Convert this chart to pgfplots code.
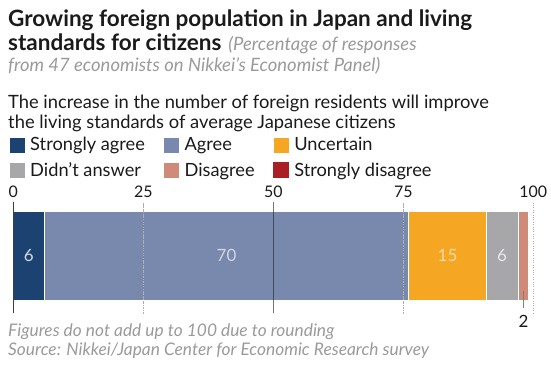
\documentclass[border=0pt]{standalone}
\usepackage{pgfplots}
\pgfplotsset{compat=1.18}
\usetikzlibrary{calc}
\usepackage{fontspec}
\setmainfont{Lato}
\definecolor{sa}{HTML}{1B4271}
\definecolor{ag}{HTML}{7889AD}
\definecolor{un}{HTML}{F5A623}
\definecolor{dna}{HTML}{A7A7A9}
\definecolor{dis}{HTML}{CF8A78}
\definecolor{sd}{HTML}{A91F24}
\definecolor{txtgray}{HTML}{9A9A9A}
\definecolor{txt}{HTML}{1A1A1A}
\begin{document}
\begin{tikzpicture}[x=1bp,y=1bp]
\useasboundingbox (0,0) rectangle (551,-364);
\node[anchor=base west, inner sep=0, text=txt, font=\fontsize{22.6}{26}\selectfont\bfseries] at (8,-26.5) {Growing foreign population in Japan and living};
\node[anchor=base west, inner sep=0, text=txt] at (8,-50.5) {{\fontsize{22.6}{26}\selectfont\bfseries standards for citizens}\hspace{7bp}{\fontsize{18.5}{21}\selectfont\itshape\color{txtgray}(Percentage of responses}};
\node[anchor=base west, inner sep=0, text=txtgray, font=\fontsize{18.5}{21}\selectfont\itshape] at (8,-71) {from 47 economists on Nikkei’s Economist Panel)};
\node[anchor=base west, inner sep=0, text=txt, font=\fontsize{18.4}{21}\selectfont] at (8,-108) {The increase in the number of foreign residents will improve};
\node[anchor=base west, inner sep=0, text=txt, font=\fontsize{18.4}{21}\selectfont] at (8,-128) {the living standards of average Japanese citizens};
\node[anchor=base west, inner sep=0, text=txtgray, font=\fontsize{17.4}{20}\selectfont\itshape] at (8,-336) {Figures do not add up to 100 due to rounding};
\node[anchor=base west, inner sep=0, text=txtgray, font=\fontsize{17.4}{20}\selectfont\itshape] at (8,-355) {Source: Nikkei/Japan Center for Economic Research survey};
\begin{axis}[
  at={(13.3bp,-313bp)}, anchor=south west,
  scale only axis, width=520bp, height=111bp,
  xmin=0, xmax=100, ymin=0, ymax=1,
  xbar stacked, bar width=88.3bp,
  axis x line*=top, axis y line*=left,
  x axis line style={draw=none},
  y axis line style={draw=txt!85, line width=0.8bp, -},
  ytick=\empty,
  xtick={0,25,50,75,100},
  major tick length=0pt,
  minor tick length=0pt,
  minor xtick={25,75,100},
  xminorgrids,
  minor grid style={txtgray!80, dotted, line width=0.6bp},
  extra x ticks={50},
  extra x tick labels={},
  extra x tick style={grid=major, major grid style={gray!90, solid, line width=0.6bp}},
  axis on top,
  /pgf/number format/assume math mode=true,
  xticklabel style={font=\fontsize{16}{19}\selectfont, text=txt, yshift=1bp},
  clip=false,
  legend columns=3,
  legend image code/.code={\fill[#1] (0bp,-8bp) rectangle (16bp,8bp);},
  legend style={at={(axis description cs:-0.0092,1.588)}, anchor=north west,
    draw=none, fill=none, inner sep=0pt, outer sep=0pt,
    font=\fontsize{18.3}{21}\selectfont, text=txt,
    row sep=9bp,
    nodes={inner sep=0pt},
    /tikz/every odd column/.append style={column sep=5.3bp},
    /tikz/every even column/.append style={column sep=18bp}},
  legend cell align=left,
]
\addplot[fill=sa, draw=white, line width=0.4bp] coordinates {(6,0.515)};
\addlegendentry{Strongly agree}
\addplot[fill=ag, draw=white, line width=0.4bp] coordinates {(70,0.515)};
\addlegendentry{Agree}
\addplot[fill=un, draw=white, line width=0.4bp] coordinates {(15,0.515)};
\addlegendentry{Uncertain}
\addplot[fill=dna, draw=white, line width=0.4bp] coordinates {(6,0.515)};
\addlegendentry{Didn’t answer}
\addplot[fill=dis, draw=white, line width=0.4bp] coordinates {(2,0.515)};
\addlegendentry{Disagree}
\addplot[fill=sd, draw=none] coordinates {(0,0.515)};
\addlegendentry{Strongly disagree}
\coordinate (l1) at (axis cs:3,0.515);
\coordinate (l2) at (axis cs:41,0.515);
\coordinate (l3) at (axis cs:83.5,0.515);
\coordinate (l4) at (axis cs:94,0.515);
\coordinate (k1) at (axis cs:98.1,0.195);
\coordinate (k2) at (axis cs:98.1,0.045);
\coordinate (k3) at (axis cs:98.1,-0.072);
\coordinate (g25a) at (axis cs:25,0);
\coordinate (g25b) at (axis cs:25,1);
\coordinate (g50a) at (axis cs:50,0);
\coordinate (g50b) at (axis cs:50,1);
\coordinate (g75a) at (axis cs:75,0);
\coordinate (g75b) at (axis cs:75,1);
\coordinate (g0a) at (axis cs:0,0);
\coordinate (g0b) at (axis cs:0,1);
\end{axis}
\draw[txtgray!80, dotted, line width=0.6bp] (g25a) -- (g25b);
\draw[txtgray!80, dotted, line width=0.6bp] (g75a) -- (g75b);
\draw[black!45!ag, line width=0.6bp] (g50a) -- (g50b);
\draw[gray!90, line width=0.6bp] (g50a) -- ($(g50a)!0.117!(g50b)$);
\draw[gray!90, line width=0.6bp] ($(g50a)!0.912!(g50b)$) -- (g50b);
\draw[txt!85, line width=0.8bp] (g0a) -- (g0b);
\node[font=\fontsize{17}{20}\selectfont, text=white!80!sa] at (l1) {6};
\node[font=\fontsize{17}{20}\selectfont, text=white!65!ag] at (l2) {70};
\node[font=\fontsize{17}{20}\selectfont, text=white!60!un] at (l3) {15};
\node[font=\fontsize{17}{20}\selectfont, text=white!75!dna] at (l4) {6};
\draw[gray, line width=0.6bp] (k1) -- (k2);
\node[font=\fontsize{17}{20}\selectfont, text=txt] at (k3) {2};
\end{tikzpicture}
\end{document}
